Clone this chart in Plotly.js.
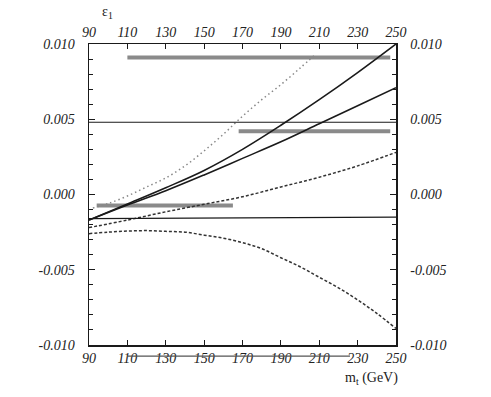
<!DOCTYPE html>
<html>
<head>
<meta charset="utf-8">
<script src="https://cdn.plot.ly/plotly-3.0.1.min.js"></script>
<style>
  body { margin: 0; background: #fff; }
  #chart { width: 491px; height: 397px; }
</style>
</head>
<body>
<div id="chart"></div>
<script>
// m_t grid for the solid and upper dashed curves
const mt = [90, 110, 130, 150, 170, 190, 210, 230, 250];
const solidSteep = [-0.0017, -0.00063, 0.00045, 0.0016, 0.0030, 0.0046, 0.0063, 0.0081, 0.0100];
const solidFlat = [-0.0017, -0.0007, 0.00025, 0.0013, 0.0024, 0.0035, 0.0047, 0.0059, 0.0071];
const dashUpper = [-0.0022, -0.0017, -0.00115, -0.00065, -0.00015, 0.0005, 0.00115, 0.0019, 0.0028];

const mtDot = [92, 100, 110, 120, 130, 140, 150, 160, 170, 180, 190, 200, 208];
const dotted = [-0.0009, -0.0006, -0.0001, 0.0005, 0.0011, 0.0019, 0.0029, 0.0040, 0.0052, 0.0063, 0.0073, 0.0084, 0.0093];

const mtLow = [90, 100, 110, 120, 130, 140, 150, 160, 170, 180, 190, 200, 210, 220, 230, 240, 250];
const dashLower = [-0.0026, -0.0025, -0.00243, -0.0024, -0.00245, -0.0025, -0.0027, -0.0029, -0.0032, -0.0036, -0.0042, -0.0048, -0.0055, -0.0062, -0.0070, -0.0079, -0.0089];

// thin horizontal reference lines
const hlineX = [90, 250];
const hlineHigh = [0.0048, 0.0048];
const hlineLow = [-0.0016, -0.0015];

// grey bands (m_t ranges, value)
const bandTopX = [110, 247], bandTopY = [0.0091, 0.0091];
const bandMidX = [168, 247], bandMidY = [0.0042, 0.0042];
const bandLowX = [94, 165], bandLowY = [-0.00073, -0.00073];

const xTicks = [90, 110, 130, 150, 170, 190, 210, 230, 250];
const yTicks = [-0.010, -0.005, 0.000, 0.005, 0.010];
const yTickText = ['-0.010', '-0.005', '0.000', '0.005', '0.010'];

const ink = '#1a1a1a';
const band = {color: '#8a8a8a', width: 4};

const traces = [
    {x: bandTopX, y: bandTopY, mode: 'lines', line: band},
    {x: bandMidX, y: bandMidY, mode: 'lines', line: band},
    {x: bandLowX, y: bandLowY, mode: 'lines', line: band},
    {x: hlineX, y: hlineHigh, mode: 'lines', line: {color: ink, width: 1.2}, xaxis: 'x2', yaxis: 'y2'},
    {x: hlineX, y: hlineLow, mode: 'lines', line: {color: ink, width: 1.2}, xaxis: 'x2', yaxis: 'y2'},
    {x: mt, y: solidSteep, mode: 'lines', line: {color: ink, width: 1.6, shape: 'spline'}},
    {x: mt, y: solidFlat, mode: 'lines', line: {color: ink, width: 1.6, shape: 'spline'}},
    {x: mt, y: dashUpper, mode: 'lines', line: {color: '#333', width: 1.5, dash: '3px,2px', shape: 'spline'}},
    {x: mtLow, y: dashLower, mode: 'lines', line: {color: '#333', width: 1.5, dash: '3px,2px', shape: 'spline'}},
    {x: mtDot, y: dotted, mode: 'lines', line: {color: '#888', width: 1.5, dash: '1.5px,3px', shape: 'spline'}}
];

const tickFont = {family: 'Liberation Serif', size: 14, color: '#222', style: 'italic'};

const xBase = {
    range: [90, 250],
    tickvals: xTicks,
    ticktext: xTicks.map(String),
    ticks: 'inside',
    ticklen: 5,
    tickcolor: ink,
    showline: true,
    linecolor: ink,
    linewidth: 1.5,
    showgrid: false,
    zeroline: false,
    tickfont: tickFont,
    ticklabelstandoff: 0
};

const yBase = {
    range: [-0.010, 0.010],
    tickvals: yTicks,
    ticktext: yTickText,
    ticks: 'inside',
    ticklen: 6,
    tickcolor: ink,
    minor: {dtick: 0.001, tick0: 0, ticks: 'inside', ticklen: 4, tickcolor: ink},
    showline: true,
    linecolor: ink,
    linewidth: 1.5,
    showgrid: false,
    zeroline: false,
    tickfont: tickFont,
    ticklabelstandoff: 10
};

const layout = {
    width: 491,
    height: 397,
    margin: {l: 89, r: 95, t: 44, b: 52},
    showlegend: false,
    paper_bgcolor: '#fff',
    plot_bgcolor: '#fff',
    xaxis: Object.assign({}, xBase, {side: 'bottom'}),
    xaxis2: Object.assign({}, xBase, {side: 'top', overlaying: 'x', matches: 'x'}),
    yaxis: Object.assign({}, yBase, {side: 'left'}),
    yaxis2: Object.assign({}, yBase, {side: 'right', overlaying: 'y', matches: 'y'}),
    shapes: [
        {type: 'line', xref: 'x', yref: 'paper', x0: 110, x1: 226, y0: -0.037, y1: -0.037,
         line: {color: '#555', width: 1.2}}
    ],
    annotations: [
        {text: 'ε<sub>1</sub>', xref: 'paper', yref: 'paper', x: 0.059, y: 1.106,
         xanchor: 'center', yanchor: 'middle',
         showarrow: false, font: {family: 'Liberation Serif', size: 14, color: '#222'}},
        {text: 'm<sub>t</sub> (GeV)', xref: 'paper', yref: 'paper', x: 0.92, y: -0.11,
         xanchor: 'center', yanchor: 'middle',
         showarrow: false, font: {family: 'Liberation Serif', size: 14, color: '#222'}}
    ]
};

Plotly.newPlot('chart', traces, layout, {displayModeBar: false, staticPlot: true});
</script>
</body>
</html>
